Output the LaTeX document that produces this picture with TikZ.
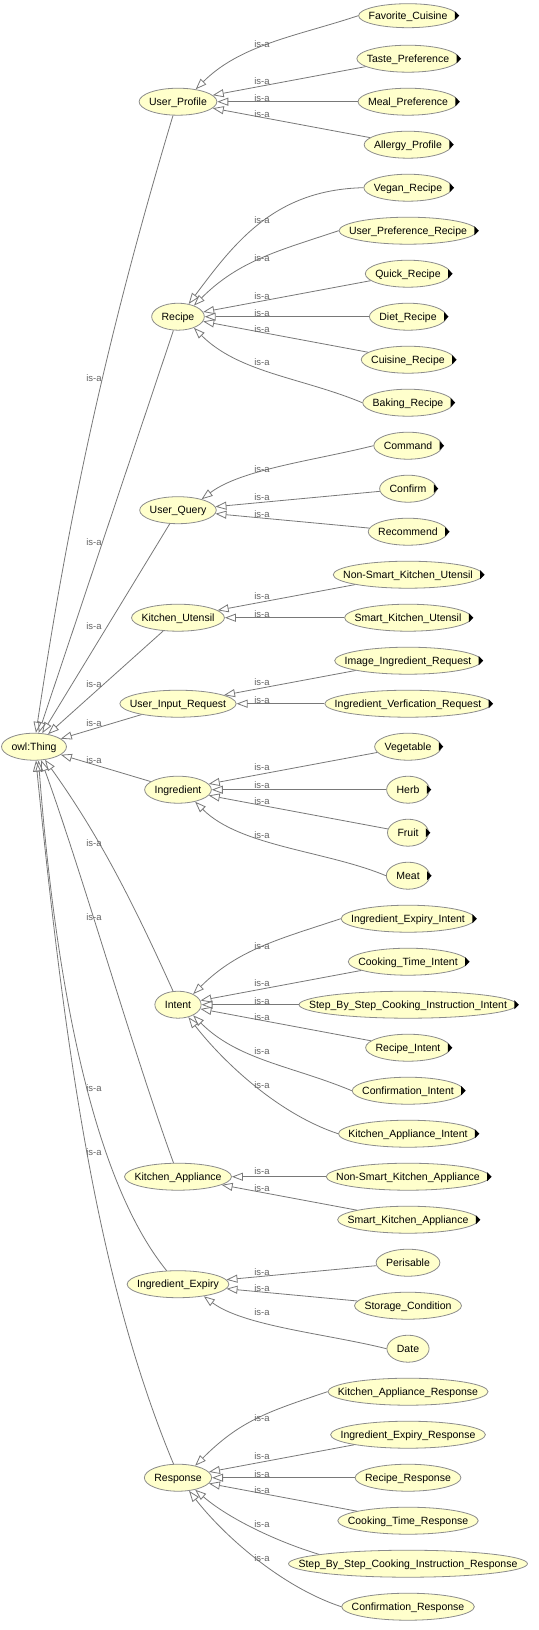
\documentclass[tikz,border=0pt]{standalone}
\usepackage{fontspec}
\newfontfamily\owlsans{Liberation Sans}
\usetikzlibrary{shapes.geometric,arrows.meta}
\definecolor{nodefill}{RGB}{255,255,204}
\definecolor{nodeline}{RGB}{140,140,140}
\definecolor{edgec}{RGB}{120,120,120}
\definecolor{lblc}{RGB}{100,100,100}
\newcommand\owlnf{\owlsans\fontsize{10.5pt}{12pt}\selectfont}
\newcommand\owllf{\owlsans\fontsize{9.5pt}{11pt}\selectfont}
\newdimen\owlw
\newcommand\owlR[1]{-15.7-43*#1}
\newcommand\owlcls[4][]{%
  \pgfinterruptpicture\global\setbox1=\hbox{\owlnf #4}\endpgfinterruptpicture
  \global\owlw=\wd1 \global\advance\owlw by 20pt\relax
  \node[owlnode,minimum width=\the\owlw,#1] (#2) at (#3) {\makebox[0pt]{#4}};}
\newcommand\owlmk[1]{\fill[black] ([xshift=-3pt]#1.east) -- ++(0,4.5) -- ++(4.5,-4.5) -- ++(-4.5,-4.5) -- cycle;}
\newcommand\owlsE[2]{\draw[isa] (#1) -- (#2);}
\newcommand\owlcA[2]{\draw[isa] (#1.west) .. controls +(-60,-20) and +(45,45) .. (#2.35);}
\newcommand\owlcB[2]{\draw[isa] (#1.west) .. controls +(-60,25) and +(45,-45) .. (#2.-35);}
\newcommand\owlcC[2]{\draw[isa] (#1.west) .. controls +(-90,-2) and +(45,60) .. (#2.50);}
\newcommand\owlcD[2]{\draw[isa] (#1.west) .. controls +(-60,20) and +(35,-45) .. (#2.-50);}
\newcommand\owlcE[2]{\draw[isa] (#1.west) .. controls +(-60,-15) and +(40,30) .. (#2.25);}
\newcommand\owlcF[2]{\draw[isa] (#1.west) .. controls +(-60,15) and +(40,-30) .. (#2.-25);}
\newcommand\owllbl[2]{\node[isalbl] (#1) at (#2) {is-a};}
\tikzset{
  owlnode/.style={ellipse, draw=nodeline, fill=nodefill, line width=0.8pt, inner sep=0pt,
    minimum height=27pt, font=\owlnf, text=black, text height=7.5pt, text depth=0pt},
  isa/.style={draw=edgec, line width=0.8pt, -{Triangle[open,length=11pt,width=8pt]}},
  isalbl/.style={font=\owllf, text=lblc, inner sep=0pt}
}
\begin{document}
\begin{tikzpicture}[x=1pt,y=1pt]
\path[fill=white] (0,0) rectangle (538,-1630);
% middle column
\owlcls{thing}{34,\owlR{17}}{owl:Thing}
\owlcls{up}{178,\owlR{2}}{User\_Profile}
\owlcls{recipe}{178,\owlR{7}}{Recipe}
\owlcls{uq}{178,\owlR{11.5}}{User\_Query}
\owlcls{ku}{178,\owlR{14}}{Kitchen\_Utensil}
\owlcls{uir}{178,\owlR{16}}{User\_Input\_Request}
\owlcls{ingr}{178,\owlR{18}}{Ingredient}
\owlcls{intent}{178,\owlR{23}}{Intent}
\owlcls{ka}{178,\owlR{27}}{Kitchen\_Appliance}
\owlcls{ie}{178,\owlR{29.5}}{Ingredient\_Expiry}
\owlcls{resp}{178,\owlR{34}}{Response}
% right column
\owlcls[minimum height=24pt]{fav}{408,\owlR{0}}{Favorite\_Cuisine}
\owlcls{taste}{408,\owlR{1}}{Taste\_Preference}
\owlcls{meal}{408,\owlR{2}}{Meal\_Preference}
\owlcls{allergy}{408,\owlR{3}}{Allergy\_Profile}
\owlcls{vegan}{408,\owlR{4}}{Vegan\_Recipe}
\owlcls{upr}{408,\owlR{5}}{User\_Preference\_Recipe}
\owlcls{quick}{408,\owlR{6}}{Quick\_Recipe}
\owlcls{diet}{408,\owlR{7}}{Diet\_Recipe}
\owlcls{cuisine}{408,\owlR{8}}{Cuisine\_Recipe}
\owlcls{baking}{408,\owlR{9}}{Baking\_Recipe}
\owlcls{command}{408,\owlR{10}}{Command}
\owlcls{confirm}{408,\owlR{11}}{Confirm}
\owlcls{recommend}{408,\owlR{12}}{Recommend}
\owlcls{nsku}{408,\owlR{13}}{Non-Smart\_Kitchen\_Utensil}
\owlcls{sku}{408,\owlR{14}}{Smart\_Kitchen\_Utensil}
\owlcls{image}{408,\owlR{15}}{Image\_Ingredient\_Request}
\owlcls{verif}{408,\owlR{16}}{Ingredient\_Verfication\_Request}
\owlcls{veg}{408,\owlR{17}}{Vegetable}
\owlcls{herb}{408,\owlR{18}}{Herb}
\owlcls{fruit}{408,\owlR{19}}{Fruit}
\owlcls{meat}{408,\owlR{20}}{Meat}
\owlcls{iei}{408,\owlR{21}}{Ingredient\_Expiry\_Intent}
\owlcls{cti}{408,\owlR{22}}{Cooking\_Time\_Intent}
\owlcls{sbsi}{408,\owlR{23}}{Step\_By\_Step\_Cooking\_Instruction\_Intent}
\owlcls{ri}{408,\owlR{24}}{Recipe\_Intent}
\owlcls{ci}{408,\owlR{25}}{Confirmation\_Intent}
\owlcls{kai}{408,\owlR{26}}{Kitchen\_Appliance\_Intent}
\owlcls{nska}{408,\owlR{27}}{Non-Smart\_Kitchen\_Appliance}
\owlcls{ska}{408,\owlR{28}}{Smart\_Kitchen\_Appliance}
\owlcls{peris}{408,\owlR{29}}{Perisable}
\owlcls{storage}{408,\owlR{30}}{Storage\_Condition}
\owlcls{date}{408,\owlR{31}}{Date}
\owlcls{kar}{408,\owlR{32}}{Kitchen\_Appliance\_Response}
\owlcls{ier}{408,\owlR{33}}{Ingredient\_Expiry\_Response}
\owlcls{rr}{408,\owlR{34}}{Recipe\_Response}
\owlcls{ctr}{408,\owlR{35}}{Cooking\_Time\_Response}
\owlcls{sbsr}{408,\owlR{36}}{Step\_By\_Step\_Cooking\_Instruction\_Response}
\owlcls{cr}{408,\owlR{37}}{Confirmation\_Response}
% markers
\foreach \n in {fav,taste,meal,allergy,vegan,upr,quick,diet,cuisine,baking,command,confirm,recommend,nsku,sku,image,verif,veg,herb,fruit,meat,iei,cti,sbsi,ri,ci,kai,nska,ska}{\owlmk{\n}}
% edges to owl:Thing
\draw[isa] (up.250) .. controls +(-72,-240) and +(30,200) .. (thing.82);
\owlsE{recipe}{thing}
\owlsE{uq}{thing}
\owlsE{ku}{thing}
\owlsE{uir}{thing}
\owlsE{ingr}{thing}
\draw[isa] (intent.110) .. controls +(-45,100) and +(50,-70) .. (thing.-50);
\draw[isa] (ka.108) .. controls +(-40,110) and +(40,-110) .. (thing.-62);
\draw[isa] (ie.130) .. controls +(-65,80) and +(20,-260) .. (thing.-72);
\draw[isa] (resp.108) .. controls +(-75,180) and +(30,-300) .. (thing.-82);
% User_Profile
\owlcA{fav}{up}
\owlsE{taste}{up}
\owlsE{meal}{up}
\owlsE{allergy}{up}
% Recipe
\owlcC{vegan}{recipe}
\owlcA{upr}{recipe}
\owlsE{quick}{recipe}
\owlsE{diet}{recipe}
\owlsE{cuisine}{recipe}
\owlcB{baking}{recipe}
% User_Query
\owlcE{command}{uq}
\owlsE{confirm}{uq}
\owlsE{recommend}{uq}
% Kitchen_Utensil
\owlsE{nsku}{ku}
\owlsE{sku}{ku}
% User_Input_Request
\owlsE{image}{uir}
\owlsE{verif}{uir}
% Ingredient
\owlsE{veg}{ingr}
\owlsE{herb}{ingr}
\owlsE{fruit}{ingr}
\owlcB{meat}{ingr}
% Intent
\owlcA{iei}{intent}
\owlsE{cti}{intent}
\owlsE{sbsi}{intent}
\owlsE{ri}{intent}
\owlcB{ci}{intent}
\owlcD{kai}{intent}
% Kitchen_Appliance
\owlsE{nska}{ka}
\owlsE{ska}{ka}
% Ingredient_Expiry
\owlsE{peris}{ie}
\owlsE{storage}{ie}
\owlcF{date}{ie}
% Response
\owlcA{kar}{resp}
\owlsE{ier}{resp}
\owlsE{rr}{resp}
\owlsE{ctr}{resp}
\draw[isa] (sbsr.174) .. controls +(-40,12) and +(35,-30) .. (resp.-35);
\owlcD{cr}{resp}
% labels right
\owllbl{l-fav}{262,-43.7}
\owllbl{l-taste}{262,-80.7}
\owllbl{l-meal}{262,-98.3}
\owllbl{l-allergy}{262,-114.2}
\owllbl{l-vegan}{262,-220}
\owllbl{l-upr}{262,-257.7}
\owllbl{l-quick}{262,-296}
\owllbl{l-diet}{262,-313.3}
\owllbl{l-cuisine}{262,-329}
\owllbl{l-baking}{262,-362.3}
\owllbl{l-command}{262,-469.4}
\owllbl{l-confirm}{262,-497.5}
\owllbl{l-recommend}{262,-514.1}
\owllbl{l-nsku}{262,-596.2}
\owllbl{l-sku}{262,-613.8}
\owllbl{l-image}{262,-682}
\owllbl{l-verif}{262,-700}
\owllbl{l-veg}{262,-767}
\owllbl{l-herb}{262,-785}
\owllbl{l-fruit}{262,-801.2}
\owllbl{l-meat}{262,-835}
\owllbl{l-iei}{262,-946}
\owllbl{l-cti}{262,-983.3}
\owllbl{l-sbsi}{262,-1001}
\owllbl{l-ri}{262,-1016.7}
\owllbl{l-ci}{262,-1051}
\owllbl{l-kai}{262,-1085.3}
\owllbl{l-nska}{262,-1171.5}
\owllbl{l-ska}{262,-1188.2}
\owllbl{l-peris}{262,-1272}
\owllbl{l-storage}{262,-1288.3}
\owllbl{l-date}{262,-1312.2}
\owllbl{l-kar}{262,-1417.7}
\owllbl{l-ier}{262,-1455.9}
\owllbl{l-rr}{262,-1473.7}
\owllbl{l-ctr}{262,-1489.7}
\owllbl{l-sbsr}{262,-1523.6}
\owllbl{l-cr}{262,-1558}
% labels left
\owllbl{t-up}{94,-377.7}
\owllbl{t-recipe}{94,-541.7}
\owllbl{t-uq}{94,-626}
\owllbl{t-ku}{94,-684}
\owllbl{t-uir}{94,-723.3}
\owllbl{t-ingr}{94,-760}
\owllbl{t-intent}{94,-842.7}
\owllbl{t-ka}{94,-916.7}
\owllbl{t-ie}{94,-1088}
\owllbl{t-resp}{94,-1151.7}
\end{tikzpicture}
\end{document}
